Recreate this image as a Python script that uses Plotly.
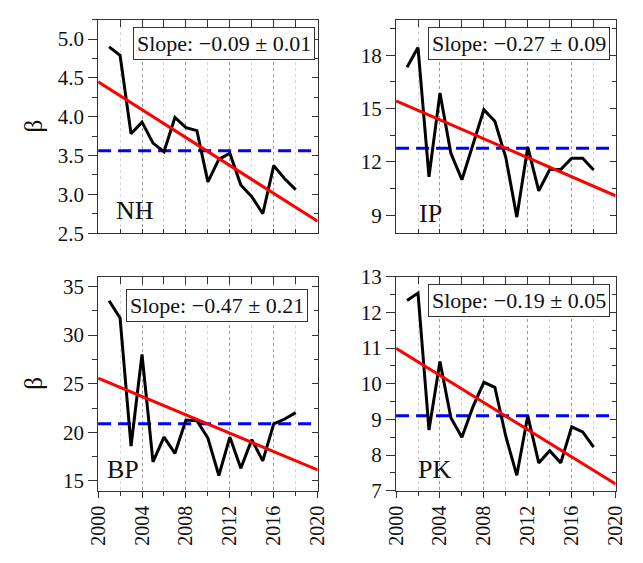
import plotly.graph_objects as go

W, H = 643, 563

years = list(range(2001, 2019))

nh_vals = [4.90, 4.79, 3.78, 3.93, 3.66, 3.55, 3.99, 3.86, 3.82, 3.16, 3.45, 3.53, 3.12, 2.97, 2.75, 3.37, 3.20, 3.06]
ip_vals = [17.32, 18.43, 11.17, 15.87, 12.48, 11.00, 12.97, 14.94, 14.29, 12.25, 8.90, 12.84, 10.38, 11.58, 11.58, 12.21, 12.21, 11.55]
bp_vals = [33.53, 31.76, 18.59, 28.00, 16.96, 19.51, 17.84, 21.27, 21.20, 19.41, 15.56, 19.51, 16.31, 19.25, 17.06, 20.88, 21.37, 22.03]
pk_vals = [12.33, 12.54, 8.70, 10.62, 9.04, 8.50, 9.35, 10.04, 9.90, 8.52, 7.43, 9.10, 7.78, 8.12, 7.78, 8.79, 8.65, 8.22]

names = ["NH", "IP", "BP", "PK"]
means = [3.56, 12.77, 20.88, 9.10]
trend_at_2000 = [4.45, 15.44, 25.56, 10.99]
trend_slope = [-0.0899, -0.267, -0.471, -0.19]
slope_labels = ["Slope: \u22120.09 \u00b1 0.01", "Slope: \u22120.27 \u00b1 0.09",
                "Slope: \u22120.47 \u00b1 0.21", "Slope: \u22120.19 \u00b1 0.05"]
y_ranges = [[2.5, 5.25], [8, 20], [14, 36], [7, 13]]
y_dticks = [0.5, 3, 5, 1]
y_minor = [0.25, 1.5, 2.5, 0.5]
y_formats = [".1f", "d", "d", "d"]
x_range = [2000, 2020]
x_label_years = [2000, 2004, 2008, 2012, 2016, 2020]

series = [nh_vals, ip_vals, bp_vals, pk_vals]

# layout geometry (pixels)
x_doms_px = [(89.3, 317), (398.3, 626), (89.3, 317), (398.3, 626)]
y_doms_px = [(8, 231), (8, 231), (276.5, 500), (276.5, 500)]

FONT = "Liberation Serif"
AX = "#333333"

def fx(px):
    return px / W

def fy(py):
    return 1 - py / H

fig = go.Figure()
layout = dict(width=W, height=H, margin=dict(l=0, r=0, t=0, b=0),
              paper_bgcolor="white", plot_bgcolor="white", showlegend=False,
              font=dict(family=FONT, size=21, color="#111111"))

for i in range(4):
    n = i + 1
    xs = "" if n == 1 else str(n)
    xo = str(n + 4)
    bottom = i >= 2
    xd = [fx(x_doms_px[i][0]), fx(x_doms_px[i][1])]
    yd = [fy(y_doms_px[i][1]), fy(y_doms_px[i][0])]
    layout["xaxis" + xs] = dict(
        domain=xd, anchor="y" + xs, range=x_range, tickmode="array",
        tickvals=x_label_years, ticktext=[str(v) for v in x_label_years],
        ticks="outside" if bottom else "inside", ticklen=6 if bottom else 4,
        tickcolor=AX, showticklabels=bottom, tickangle=-90,
        tickfont=dict(family=FONT, size=20, color="#111111"),
        showline=True, linecolor=AX, linewidth=1, zeroline=False,
        showgrid=True, gridcolor="#9a9a9a", gridwidth=1, griddash="3px,3px",
        minor=dict(dtick=2, tick0=2000, ticks="outside" if bottom else "inside",
                   ticklen=4, tickcolor=AX, showgrid=True, gridcolor="#d6d6d6", gridwidth=1),
    )
    layout["yaxis" + xs] = dict(
        domain=yd, anchor="x" + xs, range=y_ranges[i], tick0=0, dtick=y_dticks[i],
        tickformat=y_formats[i], ticks="outside", ticklen=9, tickcolor=AX,
        tickfont=dict(family=FONT, size=21, color="#111111"),
        showline=True, linecolor=AX, linewidth=1, zeroline=False, showgrid=False,
        minor=dict(dtick=y_minor[i], tick0=0, ticks="outside", ticklen=5, tickcolor=AX),
    )
    # mirrored axes (top / right) with inward ticks
    layout["xaxis" + xo] = dict(
        overlaying="x" + xs, anchor="y" + xs, side="top", range=x_range,
        tick0=2000, dtick=2, ticks="inside", ticklen=7, tickcolor=AX,
        showticklabels=False, showline=True, linecolor=AX, linewidth=1,
        showgrid=False, zeroline=False,
    )
    layout["yaxis" + xo] = dict(
        overlaying="y" + xs, anchor="x" + xs, side="right", range=y_ranges[i],
        tick0=0, dtick=y_dticks[i], ticks="inside", ticklen=6, tickcolor=AX,
        showticklabels=False, showline=True, linecolor=AX, linewidth=1,
        showgrid=False, zeroline=False,
        minor=dict(dtick=y_minor[i], tick0=0, ticks="inside", ticklen=4, tickcolor=AX),
    )
    fig.add_trace(go.Scatter(x=[None], y=[None], xaxis="x" + xo, yaxis="y" + xo,
                             showlegend=False, hoverinfo="skip"))

    # mean line
    fig.add_trace(go.Scatter(x=x_range, y=[means[i], means[i]], mode="lines",
                             line=dict(color="#0000ff", width=3, dash="13px,7px"),
                             xaxis="x" + xs, yaxis="y" + xs, hoverinfo="skip"))
    # data
    fig.add_trace(go.Scatter(x=years, y=series[i], mode="lines",
                             line=dict(color="#000000", width=3),
                             xaxis="x" + xs, yaxis="y" + xs))
    # trend
    ty = [trend_at_2000[i] + trend_slope[i] * (x - x_range[0]) for x in x_range]
    fig.add_trace(go.Scatter(x=x_range, y=ty, mode="lines",
                             line=dict(color="#ff0000", width=3),
                             xaxis="x" + xs, yaxis="y" + xs, hoverinfo="skip"))

# annotations
box_pos = [(314, 16), (620, 16), (307, 289), (620, 284)]
label_pos = [(106, 207), (420, 210), (96, 478), (419, 478)]
anns = []
for i in range(4):
    anns.append(dict(text=slope_labels[i], x=fx(box_pos[i][0]), y=fy(box_pos[i][1]),
                     xref="paper", yref="paper", xanchor="right", yanchor="top",
                     showarrow=False, font=dict(family=FONT, size=22, color="#111111"),
                     bordercolor=AX, borderwidth=1, borderpad=3, bgcolor="white"))
    anns.append(dict(text=names[i], x=fx(label_pos[i][0]), y=fy(label_pos[i][1]),
                     xref="paper", yref="paper", xanchor="left", yanchor="middle",
                     showarrow=False, font=dict(family=FONT, size=26, color="#111111")))
for yc in [119.5, 388]:
    anns.append(dict(text="\u03b2", x=fx(22), y=fy(yc), xref="paper", yref="paper",
                     xanchor="center", yanchor="middle", textangle=-90, showarrow=False,
                     font=dict(family=FONT, size=25, color="#111111")))
layout["annotations"] = anns

fig.update_layout(**layout)
fig.write_html("out.html")
